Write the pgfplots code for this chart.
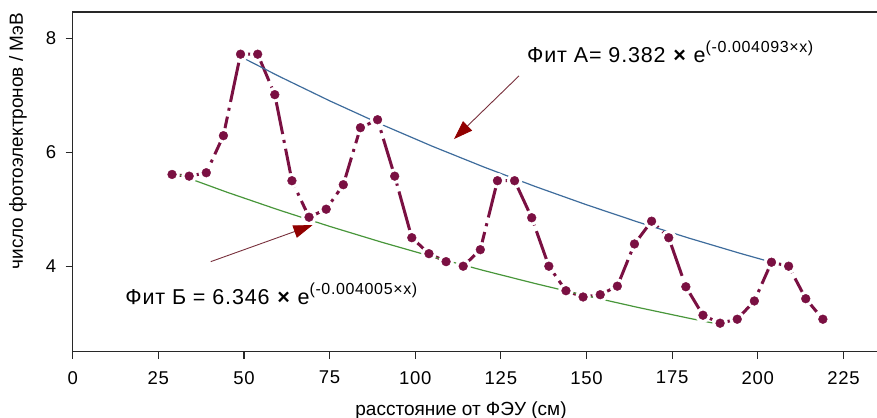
\documentclass[border=0pt]{standalone}
\usepackage{fontspec}
\setmainfont{Liberation Sans}
\newfontfamily\spacedfont[LetterSpace=4]{Liberation Sans}
\usepackage{pgfplots}
\pgfplotsset{compat=1.18}
\usepackage{pgfplotstable}
\usetikzlibrary{arrows.meta}

\definecolor{datacol}{RGB}{122,16,66}
\definecolor{fitA}{RGB}{62,108,156}
\definecolor{fitB}{RGB}{72,150,58}
\definecolor{arrline}{RGB}{120,48,60}
\definecolor{arrhead}{RGB}{145,0,0}
\definecolor{axiscol}{RGB}{40,40,40}

% measured photoelectron yield vs. distance from the PMT
\pgfplotstableread{
x   y
29  5.61
34  5.58
39  5.64
44  6.29
49  7.72
54  7.72
59  7.01
64  5.50
69  4.86
74  5.00
79  5.43
84  6.43
89  6.57
94  5.58
99  4.50
104 4.22
109 4.08
114 4.00
119 4.29
124 5.50
129 5.50
134 4.85
139 4.00
144 3.57
149 3.46
154 3.50
159 3.65
164 4.39
169 4.79
174 4.50
179 3.64
184 3.14
189 3.00
194 3.07
199 3.39
204 4.07
209 4.00
214 3.43
219 3.07
}\datatable

% upper envelope: 9.382*exp(-0.004093 x)
\pgfplotstableread{
x   y
49  7.677
60  7.339
75  6.902
90  6.491
105 6.104
120 5.741
135 5.399
150 5.078
165 4.775
180 4.491
195 4.223
205 4.054
}\fitAtable

% lower envelope: 6.346*exp(-0.004005 x)
\pgfplotstableread{
x   y
29  5.650
45  5.299
60  4.990
75  4.699
90  4.425
105 4.167
120 3.924
135 3.696
150 3.480
165 3.277
180 3.086
190 2.965
}\fitBtable

\newcommand{\tickfont}{\spacedfont\fontsize{18.5bp}{20bp}\selectfont}
\newcommand{\labfont}{\fontsize{19bp}{22bp}\selectfont}
\newcommand{\fitfont}{\spacedfont\fontsize{21.5bp}{24bp}\selectfont}
\newcommand{\supfont}{\spacedfont\fontsize{16bp}{18bp}\selectfont}

\begin{document}
\begin{tikzpicture}
\useasboundingbox (-72.7bp,-66.3bp) rectangle (804.3bp,351.7bp);
\begin{axis}[
  at={(0,0)}, anchor=south west,
  scale only axis,
  width=806bp, height=339.7bp,
  xmin=0, xmax=235.3,
  ymin=2.5, ymax=8.46,
  xtick={0,25,...,225},
  ytick={4,6,8},
  xtick pos=bottom, ytick pos=left,
  tick align=outside,
  major tick length=7bp,
  axis line style={draw=axiscol, line width=1.3bp},
  every tick/.style={draw=axiscol, line width=1.1bp},
  /pgf/number format/assume math mode=true,
  ticklabel style={font=\tickfont, text=black},
  xticklabel style={yshift=-9bp},
  yticklabel style={xshift=-6bp},
  xlabel={расстояние от ФЭУ (см)},
  ylabel={число фотоэлектронов / МэВ},
  label style={font=\labfont},
  xlabel style={at={(axis description cs:0.4818,-0.172)}, anchor=center},
  ylabel style={at={(axis description cs:-0.0679,0.620)}, anchor=center},
  clip=false,
]
% dashed connecting line
\addplot[datacol, line width=3bp, dash pattern=on 40bp off 6bp on 3bp off 6bp, no markers]
  table[x=x, y=y] {\datatable};
% white gap around each point
\addplot[white, only marks, mark=*, mark size=7.5bp, mark options={solid, draw=none, fill=white}]
  table[x=x, y=y] {\datatable};
% fitted envelopes
\addplot[fitA, line width=1.2bp, no markers] table[x=x, y=y] {\fitAtable};
\addplot[fitB, line width=1.2bp, no markers] table[x=x, y=y] {\fitBtable};
% points
\addplot[datacol, only marks, mark=*, mark size=4.4bp, mark options={solid, draw=none, fill=datacol}]
  table[x=x, y=y] {\datatable};

% annotations
\draw[arrline, line width=0.9bp, -{Triangle[length=19bp, width=13bp, color=arrhead]}]
  (axis cs:130.3,7.34) -- (axis cs:111.3,6.23);
\draw[arrline, line width=0.9bp, -{Triangle[length=19bp, width=13bp, color=arrhead]}]
  (axis cs:40.3,4.08) -- (axis cs:70.0,4.72);
\node[anchor=base west, inner sep=0pt, font=\fitfont] at (axis cs:132.6,7.58)
  {Фит А= 9.382 \textbf{×} e\raisebox{9.5bp}{\supfont(-0.004093×x)}};
\node[anchor=base west, inner sep=0pt, font=\fitfont] at (axis cs:15.3,3.33)
  {Фит Б = 6.346 \textbf{×} e\raisebox{9.5bp}{\supfont(-0.004005×x)}};
\end{axis}
\end{tikzpicture}
\end{document}
